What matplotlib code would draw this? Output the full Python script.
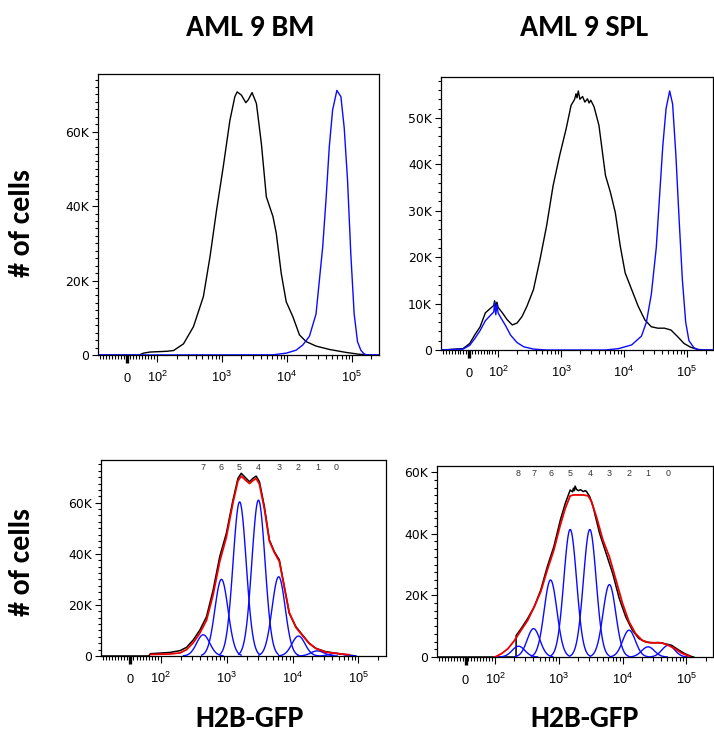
import numpy as np
import matplotlib
matplotlib.use("Agg")
import matplotlib.pyplot as plt
from matplotlib.ticker import FixedLocator, NullFormatter

# ---------------------------------------------------------------------------
# Data (counts in thousands of cells, x in H2B-GFP fluorescence units)
# ---------------------------------------------------------------------------

# AML 9 BM: sample (black) and undivided H2B-GFP control (blue)
bm_black_x = [-97, 40, 55, 77, 142, 180, 256, 364, 518, 655, 828, 1048, 1325,
              1580, 1717, 2000, 2329, 2529, 2911, 3394, 4048, 4827, 6105, 6866,
              8190, 9770, 12360, 15630, 19770, 28120, 44980, 80900, 129300,
              207000, 262144]
bm_black_k = [0, 0, 0.5, 0.8, 1.0, 1.2, 3.0, 7.6, 15.7, 26.4, 39.0, 50.6, 63.0,
              69.4, 70.7, 69.8, 67.8, 68.5, 70.5, 67.6, 56.8, 42.5, 37.2, 32.7,
              21.9, 14.3, 10.3, 5.4, 3.6, 2.4, 1.5, 0.7, 0.2, 0, 0]
bm_blue_x = [-97, 6100, 9800, 13900, 17600, 22200, 28100, 35600, 40000, 45000,
             50600, 58900, 67900, 76400, 85900, 96600, 108700, 122300, 137500,
             154600, 170000, 262144]
bm_blue_k = [0, 0.05, 0.5, 1.3, 2.7, 5.0, 11.0, 29.0, 41.6, 56.0, 65.8, 71.1,
             69.4, 61.0, 47.0, 27.0, 11.0, 3.6, 1.3, 0.3, 0, 0]

# AML 9 SPL: sample (black) and undivided H2B-GFP control (blue)
spl_black_x = [-97, -21, 2, 20, 38, 56, 74, 85, 88, 92, 96, 100, 117, 140, 168,
               200, 240, 287, 365, 464, 590, 750, 953, 1211, 1449, 1650, 1736,
               1800, 1888, 2000, 2207, 2400, 2642, 2800, 2978, 3357, 4017, 5105,
               6110, 7320, 8770, 10500, 13340, 16950, 21540, 27380, 34800,
               44240, 56230, 71460, 90800, 115500, 146800, 186600, 262144]
spl_black_k = [0, 0.3, 1.4, 3.3, 5.0, 8.0, 9.0, 9.6, 10.6, 9.3, 10.3, 9.2, 8.0,
               6.5, 5.4, 5.8, 7.2, 9.4, 13.0, 19.5, 26.7, 35.4, 41.9, 47.7,
               52.7, 54.0, 55.2, 54.3, 55.8, 54.0, 54.6, 53.4, 54.1, 53.2, 53.8,
               52.4, 48.4, 37.6, 34.0, 29.6, 22.4, 16.6, 13.0, 9.4, 6.5, 5.0,
               4.7, 4.7, 4.3, 2.9, 1.4, 0.6, 0.15, 0, 0]
spl_blue_x = [-97, -21, 2, 20, 38, 56, 74, 85, 88, 92, 96, 100, 110, 132, 158,
              200, 255, 365, 590, 5105, 8260, 13340, 19100, 22870, 27380, 32790,
              36980, 41700, 46980, 53600, 59700, 67300, 75860, 85500, 96400,
              108600, 130200, 156000, 262144]
spl_blue_k = [0, 0.2, 1.0, 2.5, 4.2, 6.3, 7.5, 8.2, 10.2, 7.6, 9.8, 8.0, 7.0,
              5.2, 3.2, 1.6, 0.7, 0.2, 0, 0, 0.3, 1.1, 3.0, 6.0, 12.0, 22.0,
              33.0, 44.0, 52.0, 55.8, 53.0, 42.0, 28.0, 15.0, 6.0, 2.0, 0.5, 0, 0]

# BM proliferation model: measured histogram, fitted total and generation peaks
bmfit_black_x = [-97, 60, 66, 138, 196, 246, 311, 392, 494, 622, 784, 988,
                 1245, 1481, 1662, 1977, 2222, 2494, 2800, 3143, 3738, 4444,
                 5292, 6298, 7489, 8910, 11220, 14150, 17820, 22470, 31830,
                 50530, 71500, 90000]
bmfit_black_k = [0, 0, 0.9, 1.4, 2.1, 3.4, 6.3, 10.2, 15.4, 25.8, 38.9, 48.0,
                 61.0, 69.5, 71.5, 69.5, 68.2, 69.5, 70.4, 68.2, 58.4, 45.4,
                 40.8, 37.6, 27.1, 16.7, 11.5, 8.2, 5.0, 3.0, 1.7, 0.9, 0.4, 0]
bmfit_red_x = [66, 138, 196, 246, 311, 392, 494, 622, 784, 988, 1245, 1481,
               1662, 1977, 2222, 2494, 2800, 3143, 3738, 4444, 5292, 6298, 7489,
               8910, 11220, 14150, 17820, 22470, 31830, 50530, 71500]
bmfit_red_k = [0.6, 0.8, 1.2, 2.5, 5.2, 9.0, 14.0, 24.0, 37.0, 46.5, 60.0, 68.5,
               70.4, 68.6, 67.5, 68.6, 69.5, 67.2, 57.5, 45.0, 40.5, 37.0, 27.0,
               17.0, 11.2, 8.0, 5.0, 3.0, 1.5, 0.9, 0.5]
bm_generations = [0, 1, 2, 3, 4, 5, 6, 7]
bm_gen_center = [46000, 23800, 12300, 6150, 3035, 1571, 832, 440]
bm_gen_height_k = [1.0, 2.0, 7.8, 31.0, 61.0, 60.3, 30.0, 8.3]

# SPL proliferation model
splfit_black_x = [-97, 214, 215, 257, 326, 413, 522, 661, 838, 1061, 1268,
                  1512, 1650, 1701, 1760, 1805, 1900, 2032, 2200, 2427, 2600,
                  2730, 3071, 3455, 4375, 5540, 7015, 8890, 11250, 14250, 18040,
                  22850, 28950, 36650, 46420, 58780, 74450, 94270, 119400,
                  130000]
splfit_black_k = [0, 0, 7.0, 9.2, 12.5, 16.3, 21.7, 29.3, 35.8, 44.5, 49.9,
                  54.2, 53.6, 54.8, 54.0, 55.5, 54.4, 54.0, 54.3, 53.7, 54.0,
                  53.7, 52.0, 48.8, 40.1, 33.6, 27.1, 19.0, 13.0, 8.7, 6.0, 4.9,
                  4.6, 4.7, 4.3, 3.8, 2.4, 1.1, 0.2, 0]
splfit_red_x = [100, 127, 160, 203, 257, 326, 413, 522, 661, 838, 1061, 1268,
                1512, 1701, 2427, 2894, 3260, 3890, 4920, 6230, 7890, 10000,
                12660, 16030, 20300, 25700, 32550, 41200, 52200, 66150, 83800,
                112500]
splfit_red_k = [0, 1.1, 2.7, 5.4, 8.7, 11.9, 16.3, 21.2, 28.2, 34.7, 42.9, 48.3,
                52.3, 52.6, 52.6, 52.3, 50.5, 45.6, 38.0, 32.5, 25.0, 17.4, 11.4,
                7.6, 5.4, 4.7, 4.6, 4.6, 3.8, 2.7, 1.3, 0.2]
spl_generations = [0, 1, 2, 3, 4, 5, 6, 7, 8]
spl_gen_center = [52240, 25130, 12660, 6230, 3071, 1512, 744, 403, 234]
spl_gen_height_k = [3.8, 3.3, 8.7, 23.5, 41.4, 41.4, 25.0, 9.2, 3.5]
gen_width_decades = 0.10

# Axis ticks
x_major = [0, 1e2, 1e3, 1e4, 1e5]
x_major_labels = ["0", r"$\mathregular{10^{2}}$", r"$\mathregular{10^{3}}$",
                  r"$\mathregular{10^{4}}$", r"$\mathregular{10^{5}}$"]
x_minor = ([-v for v in range(10, 100, 10)] + list(range(10, 100, 10))
           + [m * 10 ** e for e in (2, 3, 4) for m in range(2, 10)] + [2e5])

# ---------------------------------------------------------------------------
# Figure
# ---------------------------------------------------------------------------
W, H = 714, 738
plt.rcParams["font.family"] = ["Liberation Sans", "DejaVu Sans"]
plt.rcParams["mathtext.fontset"] = "custom"
plt.rcParams["mathtext.rm"] = "Liberation Sans Narrow"
plt.rcParams["mathtext.it"] = "Liberation Sans Narrow:italic"
plt.rcParams["mathtext.bf"] = "Liberation Sans Narrow:bold"

fig = plt.figure(figsize=(W / 100, H / 100), dpi=100)

PX = 0.72  # points per pixel at 100 dpi
XTICK_FONT = dict(family=["Liberation Sans Narrow", "Liberation Sans"],
                  fontsize=9.2)
YTICK_FONT = dict(family=["DejaVu Sans"], fontsize=8.9)
HEAD_FONT = dict(family=["Carlito", "Liberation Sans"], weight="bold",
                 fontsize=21.5)


def add_axes_px(left, top, right, bottom):
    return fig.add_axes([left / W, 1 - bottom / H, (right - left) / W,
                         (bottom - top) / H])


def style_axes(ax, ymax, y_major, y_minor_step):
    ax.set_xscale("symlog", linthresh=100, linscale=0.415)
    ax.set_xlim(-97, 262144)
    ax.set_ylim(0, ymax)

    ax.xaxis.set_major_locator(FixedLocator(x_major))
    ax.xaxis.set_minor_locator(FixedLocator(x_minor))
    ax.xaxis.set_major_formatter(NullFormatter())
    ax.xaxis.set_minor_formatter(NullFormatter())
    ax.tick_params(axis="x", which="major", direction="out", length=7 * PX,
                   width=0.8, color="black")
    ax.tick_params(axis="x", which="minor", direction="out", length=4 * PX,
                   width=0.8, color="black")
    ax.tick_params(axis="x", top=False, which="both")
    # zero tick is drawn heavier
    zero_tick = ax.xaxis.get_major_ticks()[0]
    zero_tick.tick1line.set_markeredgewidth(2.4)
    zero_tick.tick1line.set_markersize(8 * PX)
    for v, lab in zip(x_major, x_major_labels):
        ax.annotate(lab, xy=(v, 0), xycoords=("data", "axes fraction"),
                    xytext=(0, -27 * PX), textcoords="offset points",
                    ha="center", va="baseline", **XTICK_FONT)

    ax.yaxis.set_major_locator(FixedLocator(y_major))
    ax.yaxis.set_minor_locator(FixedLocator(
        np.arange(0, ymax, y_minor_step)))
    ax.set_yticklabels(["0"] + [f"{int(v)}K" for v in y_major[1:]],
                       **YTICK_FONT)
    ax.tick_params(axis="y", which="major", direction="out", length=6 * PX,
                   width=0.8, pad=3 * PX)
    ax.tick_params(axis="y", which="minor", direction="out", length=3 * PX,
                   width=0.8)
    ax.tick_params(axis="y", right=False, which="both")
    for sp in ax.spines.values():
        sp.set_linewidth(0.9)
        sp.set_color("black")


def draw_generations(ax, gens, centers, heights_k):
    for g, c, h in zip(gens, centers, heights_k):
        u0 = np.log10(c)
        u = np.linspace(u0 - 3 * gen_width_decades, u0 + 3 * gen_width_decades,
                        121)
        y = h * np.exp(-0.5 * ((u - u0) / gen_width_decades) ** 2)
        ax.plot(10 ** u, y, color="#0a0aff", lw=1.0, zorder=3)
        ax.annotate(str(g), xy=(c, 1), xycoords=("data", "axes fraction"),
                    xytext=(0, -3.5 * PX), textcoords="offset points",
                    ha="center", va="top", fontsize=6.4, color="#333333")


# --- AML 9 BM -----------------------------------------------------------------
ax1 = add_axes_px(98, 74, 379, 355)
style_axes(ax1, 75.5, [0, 20, 40, 60], 2)
ax1.plot(bm_black_x, bm_black_k, color="black", lw=1.0, zorder=2)
ax1.plot(bm_blue_x, bm_blue_k, color="#0a0aff", lw=1.0, zorder=3)

# --- AML 9 SPL ----------------------------------------------------------------
ax2 = add_axes_px(441, 77, 713, 350)
style_axes(ax2, 58.8, [0, 10, 20, 30, 40, 50], 2)
ax2.plot(spl_black_x, spl_black_k, color="black", lw=1.0, zorder=2)
ax2.plot(spl_blue_x, spl_blue_k, color="#0a0aff", lw=1.0, zorder=3)

# --- BM proliferation model --------------------------------------------------
ax3 = add_axes_px(101, 460, 386, 656)
style_axes(ax3, 76.7, [0, 20, 40, 60], 2.5)
ax3.plot(bmfit_black_x, bmfit_black_k, color="black", lw=1.1, zorder=2)
ax3.plot(bmfit_red_x, bmfit_red_k, color="#ee0000", lw=1.3, zorder=4)
draw_generations(ax3, bm_generations, bm_gen_center, bm_gen_height_k)

# --- SPL proliferation model -------------------------------------------------
ax4 = add_axes_px(437, 466, 713, 657)
style_axes(ax4, 62.0, [0, 20, 40, 60], 2.5)
ax4.plot(splfit_black_x, splfit_black_k, color="black", lw=1.1, zorder=2)
ax4.plot(splfit_red_x, splfit_red_k, color="#ee0000", lw=1.3, zorder=4)
draw_generations(ax4, spl_generations, spl_gen_center, spl_gen_height_k)

# --- headings -------------------------------------------------------------------
fig.text(250 / W, 1 - 28 / H, "AML 9 BM", ha="center", va="center", **HEAD_FONT)
fig.text(584 / W, 1 - 28 / H, "AML 9 SPL", ha="center", va="center", **HEAD_FONT)
fig.text(250 / W, 1 - 719 / H, "H2B-GFP", ha="center", va="center", **HEAD_FONT)
fig.text(585 / W, 1 - 719 / H, "H2B-GFP", ha="center", va="center", **HEAD_FONT)
fig.text(22 / W, 1 - 223 / H, "# of cells", ha="center", va="center",
         rotation=90, **HEAD_FONT)
fig.text(22 / W, 1 - 562 / H, "# of cells", ha="center", va="center",
         rotation=90, **HEAD_FONT)

fig.savefig("out.png", dpi=100)
